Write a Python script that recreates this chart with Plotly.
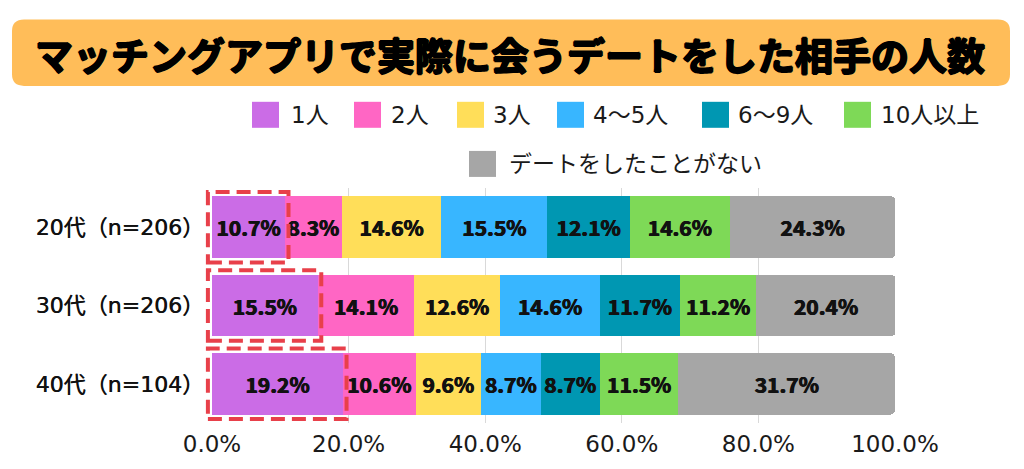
import plotly.graph_objects as go

# ---------------- data ----------------
categories = ["20代（n=206）", "30代（n=206）", "40代（n=104）"]
series_names = ["1人", "2人", "3人", "4〜5人", "6〜9人", "10人以上", "デートをしたことがない"]
one_person = [10.7, 15.5, 19.2]
two_people = [8.3, 14.1, 10.6]
three_people = [14.6, 12.6, 9.6]
four_to_five = [15.5, 14.6, 8.7]
six_to_nine = [12.1, 11.7, 8.7]
ten_or_more = [14.6, 11.2, 11.5]
never_dated = [24.3, 20.4, 31.7]
tick_vals = [0, 20, 40, 60, 80, 100]
tick_labels = ["0.0%", "20.0%", "40.0%", "60.0%", "80.0%", "100.0%"]
title_text = "マッチングアプリで実際に会うデートをした相手の人数"

series_values = [one_person, two_people, three_people, four_to_five,
                 six_to_nine, ten_or_more, never_dated]
colors = ["#CB6CE6", "#FF66C4", "#FFDE59", "#38B6FF", "#0097B2", "#7ED957", "#A6A6A6"]

CJK = "Noto Sans CJK JP"
MIX = "DejaVu Sans, Noto Sans CJK JP"
OFF = 8  # page body margin offset
W, H = 1024 - OFF, 469 - OFF
ML, MT = 212 - OFF, 188 - OFF
PW, PH = 683, 244
MR, MB = W - ML - PW, H - MT - PH


def px_x(px):
    return (px - OFF - ML) / PW


def px_y(py):
    return (MT + PH - (py - OFF)) / PH


fig = go.Figure()
for i, (name, vals, col) in enumerate(zip(series_names, series_values, colors)):
    fig.add_trace(go.Bar(
        y=categories, x=vals, orientation="h", name=name,
        marker=dict(color=col, line=dict(width=0),
                    cornerradius=5 if i == len(series_names) - 1 else None),
        texttemplate="%{x:.1f}%", textposition="inside",
        insidetextanchor="middle", textangle=0, constraintext="none",
        textfont=dict(family=CJK, size=21, color="#111111", weight="bold",
                      shadow="0.5px 0 0 #111, -0.5px 0 0 #111"),
        showlegend=False, hoverinfo="skip",
    ))

shapes = []
annotations = []

# title box (rounded)
x0, x1, y0, y1, r = 12, 1010, 13, 82, 12
pts = [
    f"M {px_x(x0 + r)} {px_y(y0)}",
    f"L {px_x(x1 - r)} {px_y(y0)}",
    f"Q {px_x(x1)} {px_y(y0)} {px_x(x1)} {px_y(y0 + r)}",
    f"L {px_x(x1)} {px_y(y1 - r)}",
    f"Q {px_x(x1)} {px_y(y1)} {px_x(x1 - r)} {px_y(y1)}",
    f"L {px_x(x0 + r)} {px_y(y1)}",
    f"Q {px_x(x0)} {px_y(y1)} {px_x(x0)} {px_y(y1 - r)}",
    f"L {px_x(x0)} {px_y(y0 + r)}",
    f"Q {px_x(x0)} {px_y(y0)} {px_x(x0 + r)} {px_y(y0)}",
    "Z",
]
shapes.append(dict(type="path", xref="paper", yref="paper", path=" ".join(pts),
                   fillcolor="#FFBD59", line=dict(width=0), layer="below"))
annotations.append(dict(text=f"<b>{title_text}</b>", xref="paper", yref="paper",
                        x=px_x(510), y=px_y(48), showarrow=False,
                        xanchor="center", yanchor="middle",
                        font=dict(family=CJK, size=38, color="#000000", weight="bold",
                                  shadow="1px 0 0 #000, -1px 0 0 #000, 0 1px 0 #000, 0 -1px 0 #000")))

# custom legend
legend_pos = [  # (swatch left px, text left px, center y px)
    (252, 289, 112), (354, 389, 112), (457, 491, 112), (557, 591, 112),
    (702, 736, 112), (844, 879, 112), (469, 507, 163),
]
sw = 27
for name, col, (sx, tx, cy) in zip(series_names, colors, legend_pos):
    shapes.append(dict(type="rect", xref="paper", yref="paper",
                       x0=px_x(sx), x1=px_x(sx + sw),
                       y0=px_y(cy + sw / 2), y1=px_y(cy - sw / 2),
                       fillcolor=col, line=dict(width=0)))
    annotations.append(dict(text=name, xref="paper", yref="paper",
                            x=px_x(tx), y=px_y(cy), showarrow=False,
                            xanchor="left", yanchor="middle",
                            font=dict(family=MIX, size=23, color="#1a1a1a")))

# red dashed highlight boxes around "1人" bars
n = len(categories)
for i, v in enumerate(one_person):
    shapes.append(dict(type="rect", xref="paper", yref="paper",
                       x0=-0.006, x1=(v + 0.5) / 100,
                       y0=1 - (i + 0.5) / n - 0.45 / n,
                       y1=1 - (i + 0.5) / n + 0.45 / n,
                       fillcolor="rgba(0,0,0,0)",
                       line=dict(color="#E8404A", width=4, dash="14px,7px")))

fig.update_layout(
    width=W, height=H,
    margin=dict(l=ML, r=MR, t=MT, b=MB),
    barmode="stack", bargap=0.21,
    paper_bgcolor="white", plot_bgcolor="white",
    shapes=shapes, annotations=annotations,
    showlegend=False,
    xaxis=dict(range=[0, 100], tickvals=tick_vals, ticktext=tick_labels,
               showgrid=True, gridcolor="#d9d9d9", gridwidth=1,
               zeroline=False, showline=False, ticks="", ticklabelstandoff=5,
               tickfont=dict(family=MIX, size=23, color="#1a1a1a"), fixedrange=True),
    yaxis=dict(autorange="reversed", showgrid=False, zeroline=False, ticks="",
               ticklabelstandoff=7,
               tickfont=dict(family=MIX, size=22, color="#111111",
                             shadow="0.4px 0 0 #111"), fixedrange=True),
)

fig.write_html("out.html")
